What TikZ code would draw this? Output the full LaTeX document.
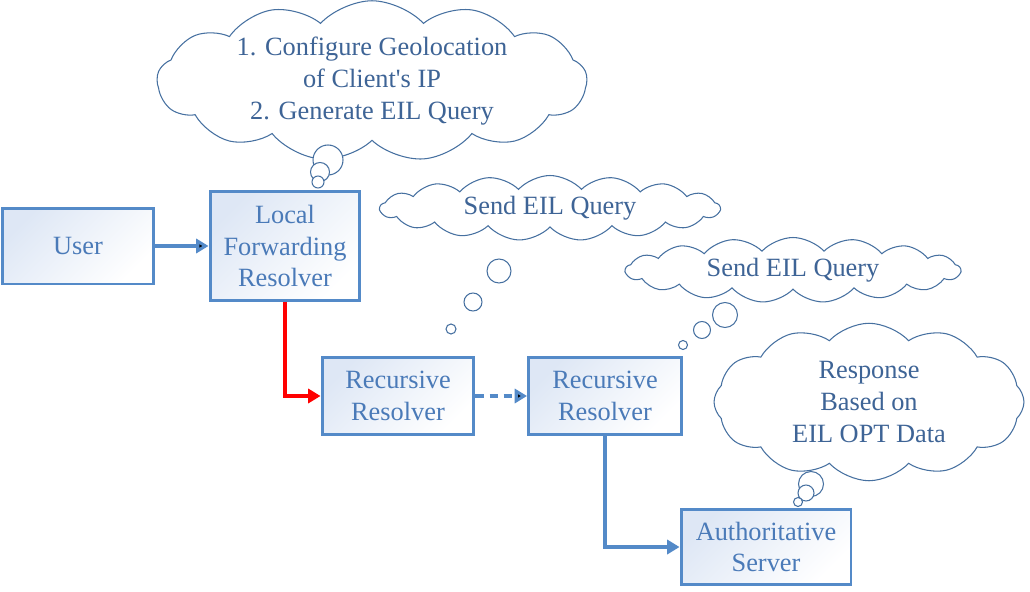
\documentclass[tikz,border=0pt]{standalone}
\usepackage{fontspec}
\setmainfont{Liberation Serif}
\usetikzlibrary{shapes.symbols,arrows.meta}

\definecolor{boxline}{RGB}{84,138,200}
\definecolor{boxtext}{RGB}{74,122,184}
\definecolor{cloudline}{RGB}{70,112,160}
\definecolor{cloudtext}{RGB}{62,100,150}
\definecolor{boxfill}{RGB}{222,231,245}

\tikzset{
	box/.style={draw=boxline, line width=1.7pt, text=boxtext, align=center,
		left color=boxfill, right color=white, shading angle=45,
		font=\fontsize{15}{18}\selectfont, inner sep=2pt},
	thought/.style={cloud, draw=cloudline, line width=0.6pt, fill=white, text=cloudtext,
		align=center, cloud ignores aspect, cloud puff arc=95,
		font=\fontsize{15}{18}\selectfont, inner sep=0pt},
	bubble/.style={circle, draw=cloudline, line width=0.6pt, fill=white, inner sep=0pt},
	flow/.style={draw=boxline, line width=2pt, -{Triangle[length=7pt,width=8pt]}},
}

\begin{document}
\begin{tikzpicture}[x=0.02cm, y=-0.02cm]
		\useasboundingbox (0,0) rectangle (1030,591);
		% boxes
		\draw (78,246) node [box, minimum width=3.04cm, minimum height=1.52cm] (user) {User};
		\draw (285,246) node [box, minimum width=3cm, minimum height=2.18cm] (lfr) {Local\\Forwarding\\Resolver};
		\draw (398,396) node [box, minimum width=3.04cm, minimum height=1.54cm] (rra) {Recursive\\Resolver};
		\draw (605,396) node [box, minimum width=3.06cm, minimum height=1.54cm] (rrb) {Recursive\\Resolver};
		\draw (766,547) node [box, minimum width=3.4cm, minimum height=1.5cm] (auth) {Authoritative\\Server};
		% clouds
		\draw (372,81) node [thought, cloud puffs=13, minimum width=8.6cm, minimum height=3.2cm] (geo)
			{1. Configure Geolocation\\of Client\textquotesingle s IP\\2. Generate EIL Query};
		\draw (328,160) node [bubble, minimum size=0.6cm] (ga) {};
		\draw (320,172) node [bubble, minimum size=0.38cm] (gb) {};
		\draw (318,182) node [bubble, minimum size=0.24cm] (gc) {};
		\draw (550,208) node [thought, cloud puffs=17, minimum width=6.8cm, minimum height=1.3cm] (senda) {Send EIL Query};
		\draw (499,271) node [bubble, minimum size=0.48cm] (sa) {};
		\draw (473,302) node [bubble, minimum size=0.36cm] (sb) {};
		\draw (451,329) node [bubble, minimum size=0.2cm] (sc) {};
		\draw (793,270) node [thought, cloud puffs=17, minimum width=6.7cm, minimum height=1.3cm] (sendb) {Send EIL Query};
		\draw (725,315) node [bubble, minimum size=0.5cm] (ta) {};
		\draw (702,330) node [bubble, minimum size=0.34cm] (tb) {};
		\draw (683,345) node [bubble, minimum size=0.18cm] (tc) {};
		\draw (869,402) node [thought, cloud puffs=12, minimum width=6.2cm, minimum height=3.15cm] (resp)
			{Response\\Based on\\EIL OPT Data};
		\draw (811,484) node [bubble, minimum size=0.5cm] (ra) {};
		\draw (806,493) node [bubble, minimum size=0.32cm] (rb) {};
		\draw (798,502) node [bubble, minimum size=0.18cm] (rc) {};
		% connectors
		\path[flow]
			(user) edge (lfr)
			(rra) edge [dash pattern=on 5pt off 3pt] (rrb);
		\draw[flow, draw=red] (lfr) |- (rra);
		\draw[flow] (rrb) |- (auth);
	\end{tikzpicture}
\end{document}
